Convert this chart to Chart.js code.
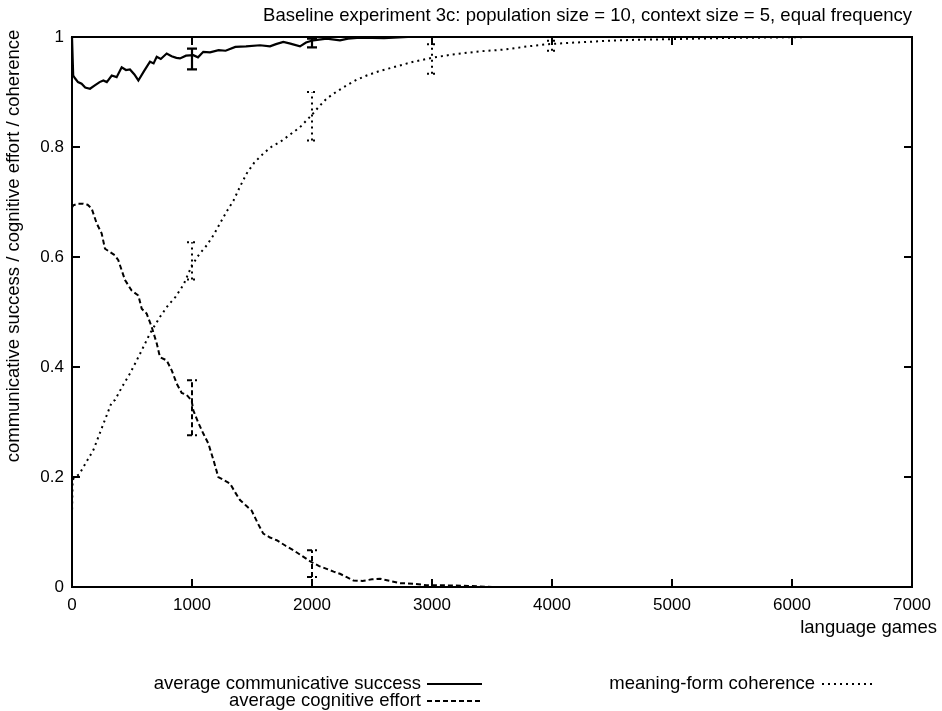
<!DOCTYPE html>
<html>
<head>
<meta charset="utf-8">
<script src="https://cdn.jsdelivr.net/npm/chart.js@4/dist/chart.umd.min.js"></script>
<style>
html,body{margin:0;padding:0;background:#fff;}
canvas{display:block;}
</style>
</head>
<body>
<canvas id="c" width="942" height="711"></canvas>
<script>
// ---- data ----
const titleText = "Baseline experiment 3c: population size = 10, context size = 5, equal frequency";
const xTitle = "language games";
const yTitle = "communicative success / cognitive effort / coherence";
const seriesNames = ["average communicative success", "average cognitive effort", "meaning-form coherence"];

const successX = [0,10,25,50,80,110,150,190,230,261,290,331,372,414,450,483,520,553,600,650,680,706,740,789,830,870,900,950,1011,1050,1094,1150,1222,1280,1361,1450,1567,1650,1700,1761,1820,1900,1950,2011,2122,2233,2300,2400,2600,2800,3000,7000];
const successY = [1.0,0.93,0.925,0.918,0.915,0.908,0.906,0.912,0.918,0.921,0.918,0.930,0.927,0.945,0.940,0.941,0.932,0.921,0.938,0.955,0.952,0.964,0.960,0.970,0.965,0.962,0.961,0.966,0.967,0.963,0.973,0.972,0.976,0.975,0.982,0.983,0.985,0.983,0.987,0.991,0.988,0.983,0.990,0.994,0.997,0.994,0.997,0.999,0.998,1.0,1.0,1.0];

const effortX = [0,11,50,94,130,164,206,247,275,310,358,386,442,497,553,581,622,664,706,733,789,831,872,914,956,997,1011,1050,1094,1136,1180,1219,1260,1317,1360,1400,1450,1497,1550,1594,1650,1706,1780,1844,1920,1997,2060,2122,2180,2233,2290,2344,2420,2500,2567,2650,2733,2850,2956,3100,3300,3500,7000];
const effortY = [0.69,0.694,0.697,0.697,0.695,0.688,0.661,0.643,0.615,0.610,0.603,0.594,0.558,0.539,0.530,0.506,0.497,0.473,0.443,0.418,0.412,0.394,0.370,0.353,0.349,0.339,0.321,0.300,0.279,0.261,0.230,0.200,0.195,0.188,0.172,0.158,0.148,0.139,0.115,0.097,0.090,0.085,0.075,0.067,0.056,0.045,0.038,0.033,0.028,0.024,0.018,0.012,0.011,0.014,0.015,0.011,0.007,0.006,0.003,0.003,0.002,0.0,0.0];

const coherenceX = [0,5,25,60,100,178,250,331,358,420,483,567,650,733,800,861,930,1000,1060,1122,1180,1233,1290,1347,1400,1456,1520,1594,1660,1733,1820,1900,1997,2060,2122,2200,2289,2370,2456,2560,2678,2844,2997,3164,3400,3595,3800,3969,4200,4458,4700,4975,5400,5800,6200,7000];
const coherenceY = [0.13,0.195,0.2,0.205,0.22,0.249,0.29,0.336,0.34,0.365,0.388,0.424,0.461,0.491,0.512,0.527,0.55,0.585,0.605,0.621,0.64,0.661,0.683,0.703,0.728,0.752,0.772,0.788,0.8,0.809,0.823,0.836,0.858,0.874,0.888,0.9,0.912,0.922,0.93,0.938,0.945,0.955,0.962,0.968,0.974,0.977,0.983,0.987,0.99,0.993,0.995,0.996,0.998,0.999,1.0,1.0];

// error bars
const successErrX = [1000, 2000];
const successErrLow = [0.941, 0.981];
const successErrHigh = [0.979, 0.997];
const effortErrX = [1000, 2000];
const effortErrLow = [0.276, 0.018];
const effortErrHigh = [0.376, 0.067];
const coherenceErrX = [1000, 2000, 3000, 4000];
const coherenceErrLow = [0.559, 0.812, 0.933, 0.975];
const coherenceErrHigh = [0.627, 0.900, 0.987, 0.993];

const xTicks = [0,1000,2000,3000,4000,5000,6000,7000];
const yTicks = [0,0.2,0.4,0.6,0.8,1];

// ---- build ----
const zip = (xs, ys) => xs.map((x, i) => ({x: x, y: ys[i]}));
const FONT = "'Liberation Sans', Arial, Helvetica, sans-serif";
const styles = [
  {dash: [], width: 2.2},
  {dash: [5, 3], width: 2},
  {dash: [2, 4], width: 2}
];
const errs = [
  {x: successErrX, lo: successErrLow, hi: successErrHigh},
  {x: effortErrX, lo: effortErrLow, hi: effortErrHigh},
  {x: coherenceErrX, lo: coherenceErrLow, hi: coherenceErrHigh}
];

const bgPlugin = {
  id: 'bg',
  beforeDraw(chart) {
    const ctx = chart.ctx;
    ctx.save();
    ctx.fillStyle = '#fff';
    ctx.fillRect(0, 0, chart.width, chart.height);
    ctx.restore();
  }
};

const decoPlugin = {
  id: 'deco',
  afterDatasetsDraw(chart) {
    const ctx = chart.ctx;
    const xs = chart.scales.x, ys = chart.scales.y;
    const a = chart.chartArea;
    ctx.save();
    // error bars
    errs.forEach((e, si) => {
      const st = styles[si];
      ctx.strokeStyle = '#000';
      ctx.lineWidth = st.width;
      ctx.setLineDash(st.dash);
      e.x.forEach((xv, i) => {
        const px = xs.getPixelForValue(xv);
        const pl = ys.getPixelForValue(e.lo[i]);
        const ph = ys.getPixelForValue(e.hi[i]);
        ctx.beginPath();
        ctx.moveTo(px, pl); ctx.lineTo(px, ph);
        ctx.moveTo(px - 5, pl); ctx.lineTo(px + 5, pl);
        ctx.moveTo(px - 5, ph); ctx.lineTo(px + 5, ph);
        ctx.stroke();
      });
    });
    ctx.setLineDash([]);
    // border
    ctx.strokeStyle = '#000';
    ctx.lineWidth = 2;
    ctx.strokeRect(a.left, a.top, a.right - a.left, a.bottom - a.top);
    // inward ticks, mirrored
    const tl = 8;
    ctx.beginPath();
    xTicks.forEach(v => {
      const px = xs.getPixelForValue(v);
      ctx.moveTo(px, a.bottom); ctx.lineTo(px, a.bottom - tl);
      ctx.moveTo(px, a.top); ctx.lineTo(px, a.top + tl);
    });
    yTicks.forEach(v => {
      const py = ys.getPixelForValue(v);
      ctx.moveTo(a.left, py); ctx.lineTo(a.left + tl, py);
      ctx.moveTo(a.right, py); ctx.lineTo(a.right - tl, py);
    });
    ctx.stroke();
    ctx.restore();
  },
  afterDraw(chart) {
    const ctx = chart.ctx;
    const a = chart.chartArea;
    ctx.save();
    ctx.fillStyle = '#000';
    ctx.font = '18.5px ' + FONT;
    ctx.textBaseline = 'middle';
    // title
    ctx.textAlign = 'right';
    ctx.fillText(titleText, a.right, 16);
    // x title
    ctx.fillText(xTitle, 937, 628);
    // y title
    ctx.save();
    ctx.translate(14, 246);
    ctx.rotate(-Math.PI / 2);
    ctx.textAlign = 'center';
    ctx.fillText(yTitle, 0, 0);
    ctx.restore();
    // legend
    const legend = [
      {tx: 421, y: 684, x0: 427, x1: 482},
      {tx: 421, y: 701, x0: 427, x1: 482},
      {tx: 815, y: 684, x0: 822, x1: 872}
    ];
    legend.forEach((l, i) => {
      ctx.textAlign = 'right';
      ctx.fillText(seriesNames[i], l.tx, l.y);
      ctx.strokeStyle = '#000';
      ctx.lineWidth = styles[i].width;
      ctx.setLineDash(styles[i].dash);
      ctx.beginPath();
      ctx.moveTo(l.x0, l.y); ctx.lineTo(l.x1, l.y);
      ctx.stroke();
    });
    ctx.restore();
  }
};

new Chart(document.getElementById('c'), {
  type: 'line',
  data: {
    datasets: [
      {label: seriesNames[0], data: zip(successX, successY)},
      {label: seriesNames[1], data: zip(effortX, effortY)},
      {label: seriesNames[2], data: zip(coherenceX, coherenceY)}
    ].map((d, i) => Object.assign(d, {
      borderColor: '#000',
      borderWidth: styles[i].width,
      borderDash: styles[i].dash,
      pointRadius: 0,
      tension: 0,
      fill: false,
      clip: 2
    }))
  },
  plugins: [bgPlugin, decoPlugin],
  options: {
    responsive: false,
    devicePixelRatio: 1,
    animation: false,
    layout: {padding: {top: 37, right: 30, left: 0, bottom: 0}},
    plugins: {legend: {display: false}, tooltip: {enabled: false}, title: {display: false}},
    scales: {
      x: {
        type: 'linear', min: 0, max: 7000,
        afterFit: s => { s.height = 124; },
        afterBuildTicks: s => { s.ticks = xTicks.map(v => ({value: v})); },
        grid: {display: false, drawTicks: false},
        border: {display: false},
        ticks: {color: '#000', font: {size: 17, family: FONT}, padding: 8, maxRotation: 0, autoSkip: false,
                callback: v => String(v)}
      },
      y: {
        type: 'linear', min: 0, max: 1,
        afterFit: s => { s.width = 72; },
        afterBuildTicks: s => { s.ticks = yTicks.map(v => ({value: v})); },
        grid: {display: false, drawTicks: false},
        border: {display: false},
        ticks: {color: '#000', font: {size: 17, family: FONT}, padding: 8, autoSkip: false,
                callback: v => String(Math.round(v * 10) / 10)}
      }
    }
  }
});
</script>
</body>
</html>
